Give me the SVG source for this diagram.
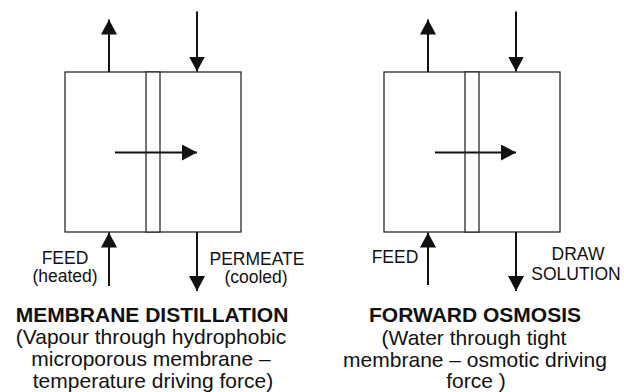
<svg xmlns="http://www.w3.org/2000/svg" width="624" height="392" viewBox="0 0 624 392">
  <defs>
    <style>
      .box { fill: #ffffff; stroke: #2a2a2a; stroke-width: 1.3; }
      .flow { fill: none; stroke: #111111; stroke-width: 2; marker-end: url(#head); }
      .lbl { font-family: "Liberation Sans", Arial, sans-serif; font-size: 17.5px; fill: #111111; text-anchor: middle; }
      .title { font-family: "Liberation Sans", Arial, sans-serif; font-size: 21px; font-weight: bold; fill: #111111; text-anchor: middle; }
      .desc { font-family: "Liberation Sans", Arial, sans-serif; font-size: 21px; fill: #111111; text-anchor: middle; }
    </style>
    <marker id="head" markerUnits="userSpaceOnUse" markerWidth="16" markerHeight="16" refX="15" refY="8" orient="auto">
      <path d="M0,0 L15,8 L0,16 Z" fill="#111111"/>
    </marker>
  </defs>
  <rect width="624" height="392" fill="#ffffff"/>

  <!-- Membrane distillation module -->
  <g id="md-module">
    <rect class="box" x="65" y="72" width="176" height="160"/>
    <rect class="box" x="146" y="72" width="14" height="160"/>
  </g>
  <g id="md-feed-label">
    <text class="lbl" x="65" y="263.5">FEED</text>
    <text class="lbl" x="65" y="282">(heated)</text>
  </g>
  <g id="md-permeate-label">
    <text class="lbl" x="257" y="264.5">PERMEATE</text>
    <text class="lbl" x="256" y="283">(cooled)</text>
  </g>
  <g id="md-caption">
    <text class="title" x="152" y="322">MEMBRANE DISTILLATION</text>
    <text class="desc" x="151" y="344">(Vapour through hydrophobic</text>
    <text class="desc" x="151" y="366">microporous membrane –</text>
    <text class="desc" x="153" y="387.5">temperature driving force)</text>
  </g>

  <!-- Forward osmosis module -->
  <g id="fo-module">
    <rect class="box" x="384" y="72" width="176" height="160"/>
    <rect class="box" x="465" y="72" width="14" height="160"/>
  </g>
  <g id="fo-feed-label">
    <text class="lbl" x="395" y="263">FEED</text>
  </g>
  <g id="fo-draw-label">
    <text class="lbl" x="578" y="259.5">DRAW</text>
    <text class="lbl" x="576" y="279.5">SOLUTION</text>
  </g>
  <g id="fo-caption">
    <text class="title" x="475" y="322">FORWARD OSMOSIS</text>
    <text class="desc" x="474" y="344.5">(Water through tight</text>
    <text class="desc" x="475" y="366.5">membrane – osmotic driving</text>
    <text class="desc" x="476" y="387.5">force )</text>
  </g>

  <!-- Flow arrows -->
  <g id="connectors">
    <line class="flow" x1="109" y1="72" x2="109" y2="19.5"/>
    <line class="flow" x1="197" y1="11.5" x2="197" y2="71.5"/>
    <line class="flow" x1="115" y1="152.5" x2="197" y2="152.5"/>
    <line class="flow" x1="109" y1="286" x2="109" y2="232.5"/>
    <line class="flow" x1="197" y1="232" x2="197" y2="291"/>

    <line class="flow" x1="428" y1="72" x2="428" y2="19.5"/>
    <line class="flow" x1="516" y1="11.5" x2="516" y2="71.5"/>
    <line class="flow" x1="435" y1="152.5" x2="516" y2="152.5"/>
    <line class="flow" x1="428" y1="285" x2="428" y2="232.5"/>
    <line class="flow" x1="516" y1="232" x2="516" y2="291"/>
  </g>
</svg>
